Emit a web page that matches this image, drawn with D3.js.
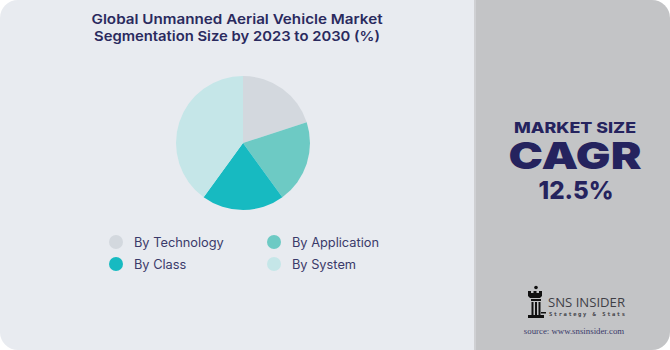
<!DOCTYPE html>
<html>
<head>
<meta charset="utf-8">
<script src="https://cdn.jsdelivr.net/npm/d3@7/dist/d3.min.js"></script>
<style>
html,body{margin:0;padding:0;background:#ffffff;}
svg{display:block;}
</style>
</head>
<body>
<svg id="chart" width="670" height="350"></svg>
<script>
const categories = ["By Technology", "By Application", "By Class", "By System"];
const values = [20, 20, 20, 40];
const colors = ["#D3D8DE", "#6DCAC4", "#17BAC1", "#C5E6E8"];
const titleLines = ["Global Unmanned Aerial Vehicle Market", "Segmentation Size by 2023 to 2030 (%)"];
const cagrLines = ["MARKET SIZE", "CAGR", "12.5%"];

const W = 670, H = 350;
const svg = d3.select("#chart");
const defs = svg.append("defs");
defs.append("clipPath").attr("id", "card")
  .append("rect").attr("x", 0).attr("y", 0).attr("width", W).attr("height", H).attr("rx", 18).attr("ry", 18);

const card = svg.append("g").attr("clip-path", "url(#card)");
card.append("rect").attr("x", 0).attr("y", 0).attr("width", 475).attr("height", H).attr("fill", "#E8EBF0");
card.append("rect").attr("x", 474).attr("y", 0).attr("width", 2).attr("height", H).attr("fill", "#CFD0D3");
card.append("rect").attr("x", 476).attr("y", 0).attr("width", W - 476).attr("height", H).attr("fill", "#C3C4C6");

// Title
const navy = "#2A2A5E";
const title = svg.append("g");
const titleW = [291, 286];
titleLines.forEach((t, i) => {
  title.append("text")
    .attr("x", 237).attr("y", 24 + i * 17)
    .attr("text-anchor", "middle")
    .attr("font-family", "Inter, 'Open Sans', sans-serif")
    .attr("font-weight", 600)
    .attr("font-size", 13.5)
    .attr("textLength", titleW[i])
    .attr("lengthAdjust", "spacingAndGlyphs")
    .attr("fill", navy)
    .text(t);
});

// Pie
const cx = 243, cy = 143, r = 67;
const pie = d3.pie().sort(null).value(d => d)(values);
const arc = d3.arc().innerRadius(0).outerRadius(r);
svg.append("g").attr("transform", `translate(${cx},${cy})`)
  .selectAll("path").data(pie).join("path")
  .attr("d", arc)
  .attr("fill", (d, i) => colors[i]);

// Legend
const legendPos = [[116, 242], [274, 242], [116, 264], [274, 264]];
const lg = svg.append("g");
categories.forEach((c, i) => {
  const [x, y] = legendPos[i];
  lg.append("circle").attr("cx", x).attr("cy", y).attr("r", 7).attr("fill", colors[i]);
  lg.append("text").attr("x", x + 18).attr("y", y + 4.5)
    .attr("font-family", "Inter, 'Open Sans', sans-serif")
    .attr("font-size", 12.8)
    .attr("fill", "#3A3A6A")
    .text(c);
});

// Right panel CAGR
const rp = svg.append("g").attr("font-family", "Inter, 'Open Sans', sans-serif").attr("fill", "#25235E").attr("text-anchor", "middle");
rp.append("text").attr("x", 575).attr("y", 133).attr("font-size", 14.7).attr("font-weight", 800)
  .attr("textLength", 122).attr("lengthAdjust", "spacingAndGlyphs").text(cagrLines[0]);
rp.append("text").attr("x", 575).attr("y", 169).attr("font-size", 37).attr("font-weight", 900)
  .attr("textLength", 133).attr("lengthAdjust", "spacingAndGlyphs").text(cagrLines[1]);
rp.append("text").attr("x", 576).attr("y", 199).attr("font-size", 24.5).attr("font-weight", 800)
  .attr("textLength", 75).attr("lengthAdjust", "spacingAndGlyphs").text(cagrLines[2]);

// Logo
const logo = svg.append("g");
const ic = logo.append("g").attr("fill", "#111");
ic.append("circle").attr("cx", 536).attr("cy", 287.5).attr("r", 1.8);
ic.append("path").attr("d", "M528,291 h3 v2 h2.5 v-2 h3 v2 h2.5 v-2 h3 v5 l-2,2 h-10 l-2,-2 z");
ic.append("rect").attr("x", 531).attr("y", 299).attr("width", 10).attr("height", 2);
ic.append("rect").attr("x", 531.5).attr("y", 302).attr("width", 2).attr("height", 13);
ic.append("rect").attr("x", 535).attr("y", 302).attr("width", 2).attr("height", 13);
ic.append("rect").attr("x", 538.5).attr("y", 302).attr("width", 2).attr("height", 13);
ic.append("rect").attr("x", 528).attr("y", 315).attr("width", 16).attr("height", 3);
ic.append("rect").attr("x", 541).attr("y", 312).attr("width", 5).attr("height", 1.5);
logo.append("text").attr("x", 548).attr("y", 307)
  .attr("font-family", "'Open Sans', 'Noto Sans', sans-serif").attr("font-size", 13.5)
  .attr("textLength", 77).attr("lengthAdjust", "spacingAndGlyphs")
  .attr("fill", "#3F3F46").text("SNS INSIDER");
logo.append("text").attr("x", 549).attr("y", 316)
  .attr("font-family", "'DejaVu Sans Mono', monospace").attr("font-size", 5.5).attr("font-weight", 700)
  .attr("textLength", 76)
  .attr("fill", "#3F3F46").text("Strategy & Stats");
logo.append("text").attr("x", 574).attr("y", 334).attr("text-anchor", "middle")
  .attr("font-family", "'Liberation Serif', 'DejaVu Serif', serif").attr("font-size", 8.8)
  .attr("fill", "#3A3A6A").text("source: www.snsinsider.com");
</script>
</body>
</html>
